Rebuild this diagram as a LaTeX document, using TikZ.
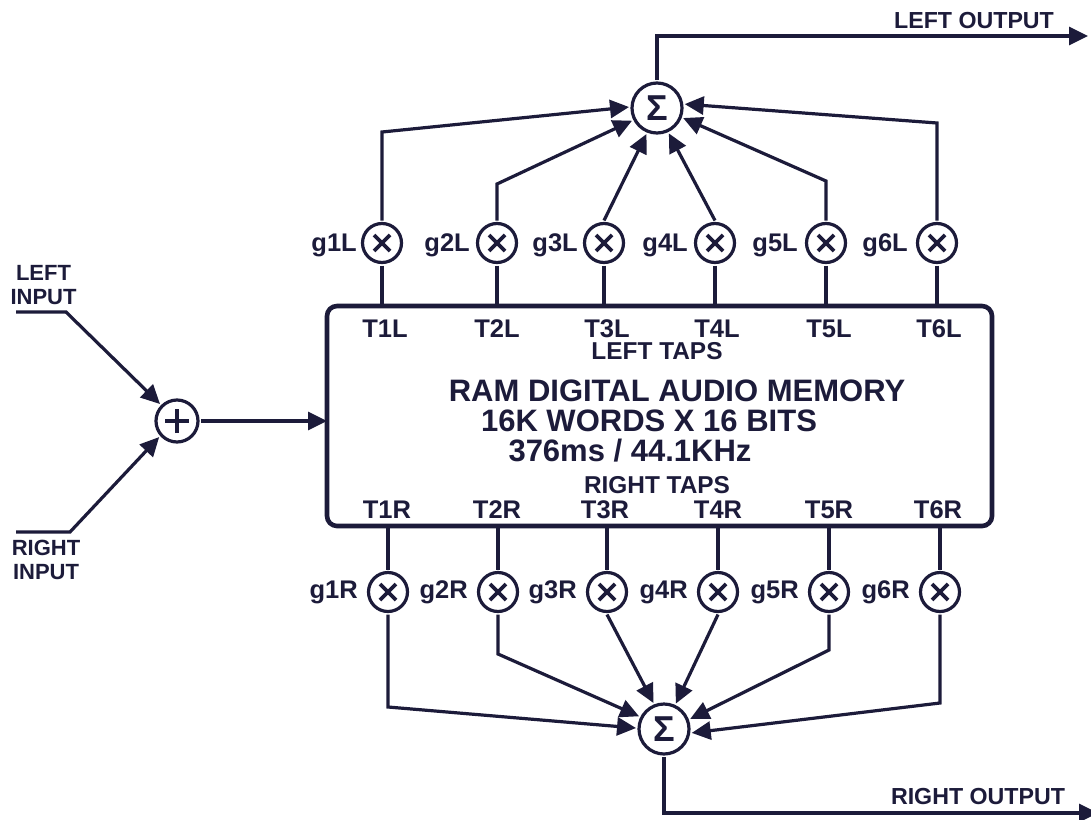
\documentclass[tikz,border=0pt]{standalone}
\usepackage{fontspec}
\setmainfont{Liberation Sans}
\usetikzlibrary{arrows.meta}
\definecolor{ink}{HTML}{1C1B3A}
\tikzset{
  lnk/.style={draw=ink,line width=3.2pt,line join=miter},
  arr/.style={lnk,-{Triangle[length=19pt,width=18pt]}},
  ring/.style={circle,draw=ink,line width=3.2pt,fill=white,inner sep=0pt,outer sep=3pt},
  mult/.style={ring,minimum size=39pt,path picture={
    \draw[ink,line width=3.6pt] ([shift={(-8pt,-8pt)}]path picture bounding box.center) -- ([shift={(8pt,8pt)}]path picture bounding box.center);
    \draw[ink,line width=3.6pt] ([shift={(-8pt,8pt)}]path picture bounding box.center) -- ([shift={(8pt,-8pt)}]path picture bounding box.center);}},
  adder/.style={ring,minimum size=42pt,path picture={
    \draw[ink,line width=3.6pt] ([xshift=-12pt]path picture bounding box.center) -- ([xshift=12pt]path picture bounding box.center);
    \draw[ink,line width=3.6pt] ([yshift=-12pt]path picture bounding box.center) -- ([yshift=12pt]path picture bounding box.center);}},
  summer/.style={ring,minimum size=50pt,font=\bfseries\fontsize{36}{36}\selectfont,text=ink},
  mem/.style={draw=ink,line width=4.6pt,rounded corners=10pt,minimum width=665pt,minimum height=220pt,inner sep=0pt,outer sep=0pt},
  lab/.style={font=\bfseries\fontsize{25.5}{26}\selectfont,text=ink,inner sep=0pt,align=center},
  outlab/.style={font=\bfseries\fontsize{23.2}{24}\selectfont,text=ink,inner sep=0pt},
  small/.style={font=\bfseries\fontsize{24.4}{26}\selectfont,text=ink,inner sep=0pt,align=center},
  inlab/.style={font=\bfseries\fontsize{22}{24}\selectfont,text=ink,inner sep=0pt,align=center},
  title/.style={font=\bfseries\fontsize{31}{32}\selectfont,text=ink,inner sep=0pt},
}
\begin{document}
\begin{tikzpicture}[x=1pt,y=-1pt]
\useasboundingbox (0,0) rectangle (1091,819);
\fill[white] (0,0) rectangle (1091,819);
\node[mem] (box) at (659.5,416) {};
\node[summer] (sumL) at (657,108) {Σ};
\node[summer] (sumR) at (664,729) {Σ};
\node[adder] (add) at (177,421) {};
\foreach \n/\x/\t/\e in {1/382/385/357,2/497/497/470,3/604/607/578,4/715/717/688,5/826/829/798,6/937/939/908}{
  \node[mult] (g\n L) at (\x,243) {};
  \node[lab,anchor=east] (gl\n) at (\e,245) {g\n L};
  \node[lab] (tl\n) at (\t,329) {T\n L};
  \draw[lnk] (g\n L.south) -- (g\n L |- box.north);
}
\foreach \n/\x/\t in {1/388/387,2/498/497,3/607/605,4/718/718,5/829/829,6/940/938}{
  \node[mult] (g\n R) at (\x,592) {};
  \node[lab,anchor=east] (gr\n) at (\x-30,592) {g\n R};
  \node[lab] (tr\n) at (\t,510) {T\n R};
  \draw[lnk] (g\n R.north) -- (g\n R |- box.south);
}
\node[small] (lefttaps) at (657,351) {LEFT TAPS};
\node[small] (righttaps) at (657,485) {RIGHT TAPS};
\node[title] (t1) at (677,391) {RAM DIGITAL AUDIO MEMORY};
\node[title] (t2) at (649,421) {16K WORDS X 16 BITS};
\node[title] (t3) at (630,451) {376ms / 44.1KHz};
\node[outlab] (lo) at (974,21) {LEFT OUTPUT};
\node[outlab] (ro) at (978,797) {RIGHT OUTPUT};
\node[inlab] (li) at (43.5,285) {LEFT\\INPUT};
\node[inlab] (ri) at (46,560) {RIGHT\\INPUT};
% outputs
\coordinate (lo1) at (657,36); \coordinate (lo2) at (1088,36);
\coordinate (ro1) at (664,813); \coordinate (ro2) at (1098,813);
\draw[arr] (sumL.north) -- (lo1) -- (lo2);
\draw[arr] (sumR.south) -- (ro1) -- (ro2);
% inputs
\coordinate (li0) at (16,312); \coordinate (li1) at (66,312);
\coordinate (ri0) at (16,532); \coordinate (ri1) at (70,532);
\draw[arr] (li0) -- (li1) -- (add.135);
\draw[arr] (ri0) -- (ri1) -- (add.222);
\draw[arr] (add.east) -- (box.west |- add.east);
% top bends
\coordinate (b1) at (382,132); \coordinate (b2) at (497,184);
\coordinate (b5) at (826,181); \coordinate (b6) at (937,123);
\draw[arr] (g1L.north) -- (b1) -- (sumL.178);
\draw[arr] (g2L.north) -- (b2) -- (sumL.207);
\draw[arr] (g3L.north) -- (sumL.248);
\draw[arr] (g4L.north) -- (sumL.295);
\draw[arr] (g5L.north) -- (b5) -- (sumL.339);
\draw[arr] (g6L.north) -- (b6) -- (sumL.8);
% bottom bends
\coordinate (c1) at (388,707); \coordinate (c2) at (498,654);
\coordinate (c5) at (829,650); \coordinate (c6) at (940,703);
\draw[arr] (g1R.south) -- (c1) -- (sumR.178);
\draw[arr] (g2R.south) -- (c2) -- (sumR.153);
\draw[arr] (g3R.south) -- (sumR.112);
\draw[arr] (g4R.south) -- (sumR.65);
\draw[arr] (g5R.south) -- (c5) -- (sumR.21);
\draw[arr] (g6R.south) -- (c6) -- (sumR.352);
\end{tikzpicture}
\end{document}
